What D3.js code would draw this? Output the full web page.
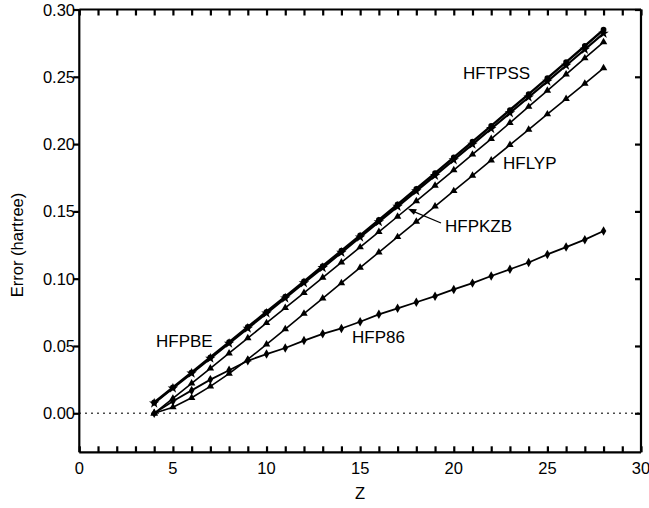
<!DOCTYPE html>
<html>
<head>
<meta charset="utf-8">
<script src="https://cdn.jsdelivr.net/npm/d3@7"></script>
<style>
  body { margin: 0; background: #fff; }
  text { font-family: "Liberation Sans", Arial, sans-serif; fill: #000; }
</style>
</head>
<body>
<svg width="649" height="508"></svg>
<script>
// Z values (atomic number)
var zVals = [4,5,6,7,8,9,10,11,12,13,14,15,16,17,18,19,20,21,22,23,24,25,26,27,28];

// errors in hartree
var hftpss = [0.0080,0.0192,0.0304,0.0416,0.0528,0.0641,0.0754,0.0867,0.0980,0.1094,0.1208,0.1322,0.1437,
              0.1552,0.1668,0.1784,0.1901,0.2018,0.2135,0.2253,0.2371,0.2490,0.2609,0.2729,0.2850];
var hfpbe  = [0.0075,0.0186,0.0297,0.0408,0.0519,0.0631,0.0743,0.0855,0.0968,0.1081,0.1194,0.1308,0.1422,
              0.1536,0.1651,0.1766,0.1882,0.1998,0.2114,0.2231,0.2348,0.2466,0.2584,0.2703,0.2822];
var hfpkzb = [0.0000,0.0110,0.0222,0.0334,0.0446,0.0558,0.0671,0.0783,0.0895,0.1008,0.1121,0.1234,0.1348,
              0.1462,0.1577,0.1692,0.1807,0.1923,0.2039,0.2158,0.2278,0.2398,0.2518,0.2638,0.2758];
var hflyp  = [0.0000,0.0045,0.0115,0.0200,0.0295,0.0400,0.0512,0.0626,0.0740,0.0854,0.0968,0.1082,0.1196,
              0.1310,0.1424,0.1538,0.1652,0.1766,0.1880,0.1994,0.2108,0.2222,0.2336,0.2450,0.2565];
var hfp86  = [0.0000,0.0090,0.0170,0.0250,0.0320,0.0390,0.0440,0.0485,0.0540,0.0590,0.0630,0.0680,0.0735,
              0.0780,0.0825,0.0870,0.0920,0.0967,0.1020,0.1070,0.1120,0.1180,0.1235,0.1290,0.1354];

var xTicks = [0,5,10,15,20,25,30];
var yTicks = [0.00,0.05,0.10,0.15,0.20,0.25,0.30];

var svg = d3.select("svg");

// scale positions measured on the reference
var x = d3.scaleLinear().domain([0, 30]).range([79.3, 641]);
var y = d3.scaleLinear().domain([-0.029, 0.30]).range([452.3, 9.5]);

// dotted zero line
svg.append("line")
    .attr("x1", x(0)).attr("x2", x(30))
    .attr("y1", y(0)).attr("y2", y(0))
    .attr("stroke", "#000")
    .attr("stroke-width", 1.4)
    .attr("stroke-dasharray", "1.4,4.6");

// axes
var axBottom = svg.append("g").attr("transform", "translate(0," + y(-0.029) + ")")
    .call(d3.axisBottom(x).tickValues(d3.range(0, 31)).tickSize(-6).tickFormat(""));
var axTop = svg.append("g").attr("transform", "translate(0," + y(0.30) + ")")
    .call(d3.axisTop(x).tickValues(d3.range(0, 31)).tickSize(-6).tickFormat(""));
var axLeft = svg.append("g").attr("transform", "translate(" + x(0) + ",0)")
    .call(d3.axisLeft(y).tickValues(yTicks).tickSize(6).tickFormat(""));
var axRight = svg.append("g").attr("transform", "translate(" + x(30) + ",0)")
    .call(d3.axisRight(y).tickValues(yTicks).tickSize(-6).tickFormat(""));

[axBottom, axTop, axLeft, axRight].forEach(function (g) {
    g.select(".domain").attr("stroke", "#000").attr("stroke-width", 2.2);
    g.selectAll(".tick line").attr("stroke", "#000").attr("stroke-width", 2.2);
});
axBottom.select(".domain").attr("d", "M" + x(0) + ",0H" + x(30));
axTop.select(".domain").attr("d", "M" + x(0) + ",0H" + x(30));
axLeft.select(".domain").attr("d", "M0," + y(-0.029) + "V" + y(0.30));
axRight.select(".domain").attr("d", "M0," + y(-0.029) + "V" + y(0.30));

// tick labels
svg.selectAll(".xlab").data(xTicks).enter().append("text")
    .attr("x", function (d) { return x(d); })
    .attr("y", 474)
    .attr("text-anchor", "middle")
    .style("font-size", "16.5px")
    .text(function (d) { return d; });

svg.selectAll(".ylab").data(yTicks).enter().append("text")
    .attr("x", 75)
    .attr("y", function (d) { return y(d) + 6; })
    .attr("text-anchor", "end")
    .style("font-size", "16.5px")
    .text(function (d) { return d.toFixed(2); });

// axis titles
svg.append("text")
    .attr("x", 360).attr("y", 499)
    .attr("text-anchor", "middle")
    .style("font-size", "16.5px")
    .text("Z");

svg.append("text")
    .attr("transform", "translate(23,245) rotate(-90)")
    .attr("text-anchor", "middle")
    .style("font-size", "16.5px")
    .text("Error (hartree)");

// series
var series = [
    { name: "HFP86",  vals: hfp86,  width: 1.8, sym: d3.symbolDiamond,  size: 26 },
    { name: "HFLYP",  vals: hflyp,  width: 1.6, sym: d3.symbolTriangle, size: 24 },
    { name: "HFPKZB", vals: hfpkzb, width: 1.6, sym: d3.symbolTriangle, size: 24 },
    { name: "HFPBE",  vals: hfpbe,  width: 2.2, sym: d3.symbolStar,     size: 34 },
    { name: "HFTPSS", vals: hftpss, width: 2.4, sym: d3.symbolCircle,   size: 26 }
];

var line = d3.line()
    .x(function (d) { return x(d[0]); })
    .y(function (d) { return y(d[1]); });

series.forEach(function (s) {
    var pts = zVals.map(function (z, i) { return [z, s.vals[i]]; });
    svg.append("path")
        .attr("d", line(pts))
        .attr("fill", "none")
        .attr("stroke", "#000")
        .attr("stroke-width", s.width);
    svg.selectAll(null).data(pts).enter().append("path")
        .attr("d", d3.symbol().type(s.sym).size(s.size))
        .attr("transform", function (d) { return "translate(" + x(d[0]) + "," + y(d[1]) + ")"; })
        .attr("fill", "#000");
});

// series labels
var labels = [
    { t: "HFTPSS", x: 463, y: 79 },
    { t: "HFLYP",  x: 503, y: 169 },
    { t: "HFPKZB", x: 445, y: 232 },
    { t: "HFP86",  x: 352, y: 343 },
    { t: "HFPBE",  x: 156, y: 347 }
];
svg.selectAll(".slab").data(labels).enter().append("text")
    .attr("x", function (d) { return d.x; })
    .attr("y", function (d) { return d.y; })
    .style("font-size", "17px")
    .text(function (d) { return d.t; });

// arrow from HFPKZB label to its curve
var ax = x(17.55), ay = y(0.1519);
svg.append("line")
    .attr("x1", 441).attr("y1", 223)
    .attr("x2", ax + 3).attr("y2", ay + 1.5)
    .attr("stroke", "#000").attr("stroke-width", 1.3);
svg.append("path")
    .attr("d", "M" + ax + "," + ay + "L" + (ax + 9) + "," + (ay + 0.5) + "L" + (ax + 6) + "," + (ay + 6) + "Z")
    .attr("fill", "#000");
</script>
</body>
</html>
